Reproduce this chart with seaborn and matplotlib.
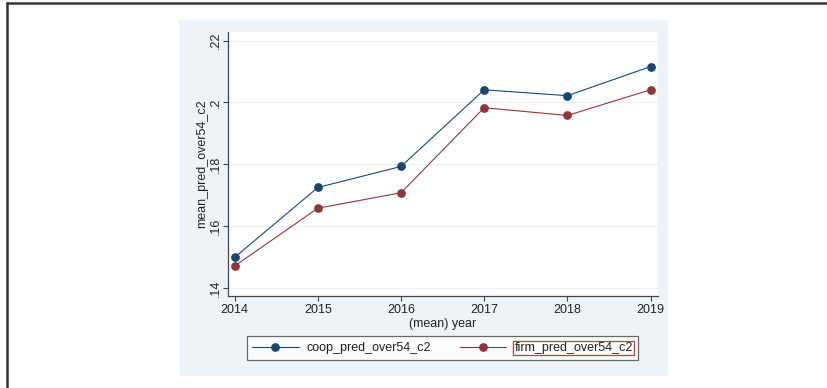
import matplotlib
matplotlib.use("Agg")
import matplotlib.pyplot as plt
import seaborn as sns
import pandas as pd
from matplotlib.patches import Rectangle
from matplotlib.lines import Line2D

# ---- data ----
years = [2014, 2015, 2016, 2017, 2018, 2019]
coop_pred_over54_c2 = [0.1499, 0.1725, 0.1793, 0.2041, 0.2022, 0.2116]
firm_pred_over54_c2 = [0.1471, 0.1658, 0.1708, 0.1983, 0.1958, 0.2041]
series_names = ["coop_pred_over54_c2", "firm_pred_over54_c2"]
y_ticks = [0.14, 0.16, 0.18, 0.20, 0.22]
y_tick_labels = [".14", ".16", ".18", ".2", ".22"]
x_label = "(mean) year"
y_label = "mean_pred_over54_c2"

df = pd.DataFrame({
    "year": years * 2,
    "value": coop_pred_over54_c2 + firm_pred_over54_c2,
    "series": [series_names[0]] * len(years) + [series_names[1]] * len(years),
})

sns.set_theme(style="white")
plt.rcParams["font.family"] = ["Liberation Sans", "DejaVu Sans"]

W, H = 828, 388
fig = plt.figure(figsize=(W / 100, H / 100), dpi=100)
fig.patch.set_facecolor("white")

# Stata-like graph region
fig.patches.append(Rectangle((179 / W, 1 - 376 / H), 489 / W, 356 / H,
                             transform=fig.transFigure, facecolor="#EEF3F8",
                             edgecolor="none", zorder=-10))
# outer frame (top and left)
fig.add_artist(Line2D([7 / W, 1], [1 - 2.5 / H, 1 - 2.5 / H], transform=fig.transFigure,
                      color="#333333", lw=1.8, zorder=-5))
fig.add_artist(Line2D([7 / W, 7 / W], [0, 1 - 2.5 / H], transform=fig.transFigure,
                      color="#333333", lw=1.8, zorder=-5))

ax = fig.add_axes([228 / W, 1 - 296 / H, 430 / W, 264 / H])
ax.set_zorder(1)
ax.set_facecolor("white")

palette = {series_names[0]: "#1a476f", series_names[1]: "#90353b"}
sns.lineplot(data=df, x="year", y="value", hue="series", style="series",
             palette=palette, markers=["o", "o"], dashes=False,
             markersize=6.3, markeredgewidth=0, linewidth=0.8, ax=ax,
             legend=False, zorder=3)

ax.set_xlim(2013.92, 2019.09)
ax.set_ylim(0.1374, 0.2228)
ax.set_xticks(years)
ax.set_xticklabels([str(y) for y in years])
ax.set_yticks(y_ticks)
ax.set_yticklabels(y_tick_labels, rotation=90, va="center")
ax.grid(axis="y", color="#E9EFF3", lw=0.8, zorder=0)
ax.grid(axis="x", visible=False)

for s in ["top", "right"]:
    ax.spines[s].set_visible(False)
for s in ["left", "bottom"]:
    ax.spines[s].set_color("#444444")
    ax.spines[s].set_linewidth(0.9)

ax.tick_params(axis="both", direction="out", length=3.8, width=0.8,
               color="#444444", labelsize=9, labelcolor="#222222", pad=2)
ax.tick_params(axis="y", left=True, pad=0.5)
ax.tick_params(axis="x", bottom=True)

ax.set_xlabel(x_label, fontsize=9, color="#222222", labelpad=1.5)
ax.set_ylabel(y_label, fontsize=9, color="#222222", labelpad=1)

handles = [Line2D([], [], color=palette[n], marker="o", markersize=6.3,
                  markeredgewidth=0, lw=0.8) for n in series_names]
leg = ax.legend(handles, series_names, loc="center",
                bbox_to_anchor=(442.5 / W, 1 - 348 / H), bbox_transform=fig.transFigure,
                ncol=2, frameon=True, fancybox=False, fontsize=9,
                handlelength=3.7, handletextpad=0.65, columnspacing=2.3,
                borderpad=0.45, labelcolor="#222222")
leg.get_frame().set_edgecolor("#444444")
leg.get_frame().set_linewidth(0.9)
leg.get_frame().set_facecolor("white")
leg.get_texts()[1].set_bbox(dict(facecolor="none", edgecolor="#d0393b",
                                 boxstyle="square,pad=0.1", lw=0.9))

fig.savefig("out.png", dpi=100)
